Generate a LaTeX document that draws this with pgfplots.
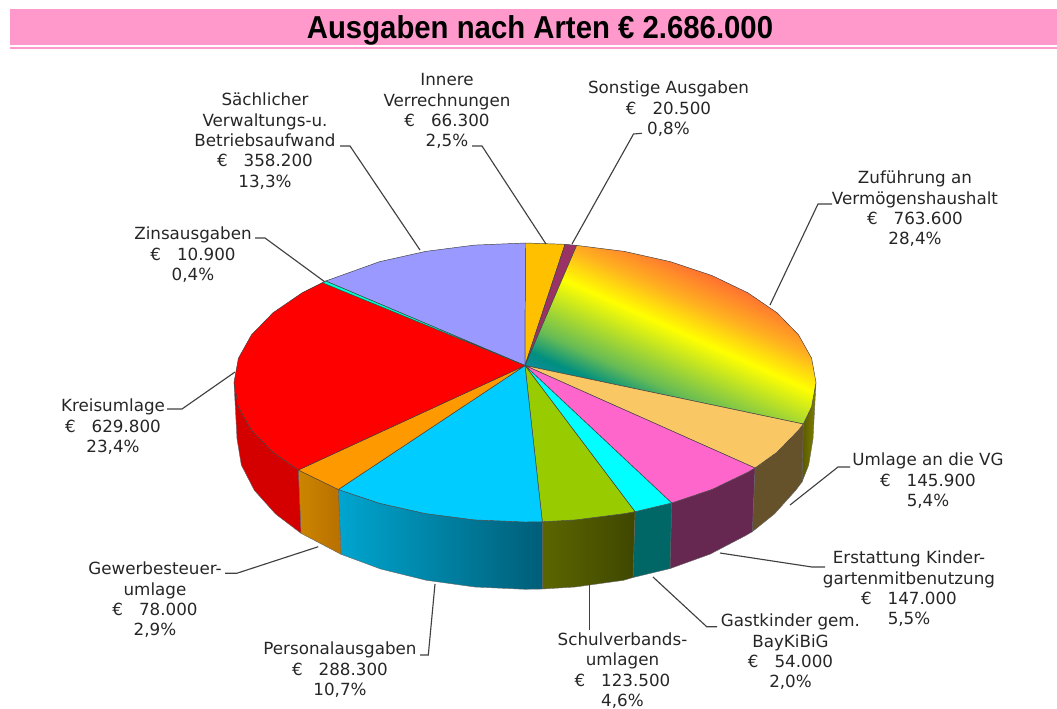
\documentclass[border=0pt]{standalone}
\usepackage{fontspec}
\usepackage{pgfplots}
\pgfplotsset{compat=1.18}
\setmainfont{DejaVu Sans}
\newfontfamily\titlefont{Liberation Sans}

\definecolor{rzA}{HTML}{2088C0}
\definecolor{rzC}{HTML}{008F80}
\definecolor{rzD}{HTML}{66BB55}
\definecolor{rzE}{HTML}{FFFF00}
\definecolor{rzF}{HTML}{FFB020}
\definecolor{rzG}{HTML}{FF6633}
% gradient on the top of the largest slice
\pgfdeclareverticalshading{zufrainbow}{100bp}{
  color(0bp)=(rzA); color(25bp)=(rzA); color(32.7bp)=(rzC);
  color(38bp)=(rzD); color(51.5bp)=(rzE); color(59bp)=(rzF); color(68bp)=(rzG);
  color(100bp)=(rzG)}

\definecolor{pinkband}{HTML}{FF99CC}
\definecolor{sach}{HTML}{9999FF}
\definecolor{inner}{HTML}{FFC000}
\definecolor{sonst}{HTML}{993366}
\definecolor{vg}{HTML}{FAC765}
\definecolor{erst}{HTML}{FF66CC}
\definecolor{gast}{HTML}{00FFFF}
\definecolor{schul}{HTML}{99CC00}
\definecolor{pers}{HTML}{00CCFF}
\definecolor{gew}{HTML}{FF9900}
\definecolor{kreis}{HTML}{FF0000}
\definecolor{zins}{HTML}{00FFCC}
\definecolor{zufwallA}{HTML}{5A5A00}
\definecolor{zufwallB}{HTML}{808000}
\definecolor{vgwall}{HTML}{66522A}
\definecolor{erstwall}{HTML}{662850}
\definecolor{gastwall}{HTML}{006666}
\definecolor{schulwallA}{HTML}{5C6600}
\definecolor{schulwallB}{HTML}{3F4700}
\definecolor{perswallA}{HTML}{00A5CF}
\definecolor{perswallB}{HTML}{005E78}
\definecolor{gewwallA}{HTML}{CC8500}
\definecolor{gewwallB}{HTML}{B87000}
\definecolor{kreiswall}{HTML}{D40000}

\tikzset{
  lbl/.style={font=\fontsize{12.55}{15.2}\selectfont, align=center, anchor=north, inner sep=0pt, text=black!85},
}
\pgfplotsset{
  slice/.style={draw=black!75, line width=0.35pt, fill=#1, mark=none},
  wall/.style 2 args={draw=black!60, line width=0.3pt, left color=#1, right color=#2, mark=none},
  lead/.style={black!75, line width=0.85pt, mark=none},
}

\begin{document}
\begin{tikzpicture}
\begin{axis}[
    scale only axis,
    width=792.75pt, height=531pt,
    xmin=0, xmax=1057,
    ymin=0, ymax=708,
    y dir=reverse,
    hide axis,
    clip=false,
]
% title band
\addplot[fill=pinkband, draw=none] coordinates {(10,9) (1057,9) (1057,44.5) (10,44.5)} --cycle;
\addplot[fill=pinkband, draw=none] coordinates {(10,46.7) (1057,46.7) (1057,49.3) (10,49.3)} --cycle;

% side walls
\addplot[wall={zufwallA}{zufwallB}] coordinates {(816,382.5) (811.6,406.8) (803.3,424) (802,482) (808.7,465) (813,438.8)} --cycle;
\addplot[wall={vgwall}{vgwall}] coordinates {(803.3,424) (798.5,430.2) (777,452.25) (755,468) (752.3,531.7) (774.4,514) (795.7,490.3) (802,482)} --cycle;
\addplot[wall={erstwall}{erstwall}] coordinates {(755,468) (747.9,472.2) (712.1,489.4) (671.7,503) (670,568.6) (710.2,554.1) (745.6,535.6) (752.3,531.7)} --cycle;
\addplot[wall={gastwall}{gastwall}] coordinates {(671.7,503) (635,511.7) (633,577.5) (670,568.6)} --cycle;
\addplot[wall={schulwallA}{schulwallB}] coordinates {(635,511.7) (624.5,513.6) (575.6,519.9) (542.3,521.8) (542.3,589) (575.1,587) (623.5,580.3) (633,577.5)} --cycle;
\addplot[wall={perswallA}{perswallB}] coordinates {(542.3,521.8) (525,522) (474.4,519.9) (425.5,513.6) (379.5,503.3) (338.3,489.5) (341,554.3) (381,569.1) (426.5,580.3) (474.9,587) (525,589.3) (542.3,589)} --cycle;
\addplot[wall={gewwallA}{gewwallB}] coordinates {(338.3,489.5) (298.3,470) (301,533.3) (341,554.3)} --cycle;
\addplot[wall={kreiswall}{kreiswall}] coordinates {(298.3,470) (273,452.25) (251.5,430.2) (238.4,406.8) (234,382.5) (237,438.8) (241.3,465) (254.3,490.3) (275.6,514.05) (301,533.3)} --cycle;

% top of the pie
\addplot[slice=sach] coordinates {(525,365.5) (325.7,281) (379.5,261.7) (425.5,251.4) (474.4,245.1) (525.5,243)} --cycle;
\addplot[slice=inner] coordinates {(525,365.5) (525.5,243) (565,244.3)} --cycle;
\addplot[slice=sonst] coordinates {(525,365.5) (565,244.3) (576.7,245.4)} --cycle;
\addplot[draw=black!75, line width=0.35pt, mark=none, shade, shading=zufrainbow, shading angle=-24.25] coordinates {(525,365.5) (576.7,245.4) (624.5,251.4) (670.5,261.7) (712.1,275.6) (747.9,292.8) (777,312.75) (798.5,334.8) (811.6,358.2) (816,382.5) (811.6,406.8) (803.3,424)} --cycle;
\addplot[slice=vg] coordinates {(525,365.5) (803.3,424) (798.5,430.2) (777,452.25) (755,468)} --cycle;
\addplot[slice=erst] coordinates {(525,365.5) (755,468) (747.9,472.2) (712.1,489.4) (671.7,503)} --cycle;
\addplot[slice=gast] coordinates {(525,365.5) (671.7,503) (635,511.7)} --cycle;
\addplot[slice=schul] coordinates {(525,365.5) (635,511.7) (624.5,513.6) (575.6,519.9) (542.3,521.8)} --cycle;
\addplot[slice=pers] coordinates {(525,365.5) (542.3,521.8) (525,522) (474.4,519.9) (425.5,513.6) (379.5,503.3) (338.3,489.5)} --cycle;
\addplot[slice=gew] coordinates {(525,365.5) (338.3,489.5) (298.3,470)} --cycle;
\addplot[slice=kreis] coordinates {(525,365.5) (298.3,470) (273,452.25) (251.5,430.2) (238.4,406.8) (234,382.5) (238.4,358.2) (251.5,334.8) (273,312.75) (302.1,292.8) (322.3,282.7)} --cycle;
\addplot[slice=zins] coordinates {(525,365.5) (322.3,282.7) (325.7,281)} --cycle;

% leader lines
\addplot[lead] coordinates {(472,146) (482,146) (546,244)};
\addplot[lead] coordinates {(642,133.3) (633.5,134) (572,244)};
\addplot[lead] coordinates {(832,204) (818,204) (770,305)};
\addplot[lead] coordinates {(850,467) (838,467) (790,505)};
\addplot[lead] coordinates {(825,567) (812,567) (720,553)};
\addplot[lead] coordinates {(717,626.7) (706.7,626.7) (653,577)};
\addplot[lead] coordinates {(589.3,584) (589.3,630)};
\addplot[lead] coordinates {(420,655) (428.3,655) (435,584)};
\addplot[lead] coordinates {(225,573.3) (236.7,573.3) (318.3,546.7)};
\addplot[lead] coordinates {(167,409) (182,409) (235,372)};
\addplot[lead] coordinates {(255,238) (265,238) (325,282)};
\addplot[lead] coordinates {(340,146) (350,146) (420,250)};

% title and labels
\node[font=\titlefont\bfseries\fontsize{22}{24}\selectfont, inner sep=0pt, yscale=1.08, transform shape] at (axis cs:540,30) {Ausgaben nach Arten € 2.686.000};

\node[lbl] at (axis cs:447,73.5) {Innere\\Verrechnungen\\€\ \ \ 66.300\\2,5\%};
\node[lbl] at (axis cs:668.5,81) {Sonstige Ausgaben\\€\ \ \ 20.500\\0,8\%};
\node[lbl] at (axis cs:915,171) {Zuführung an\\Vermögenshaushalt\\€\ \ \ 763.600\\28,4\%};
\node[lbl] at (axis cs:928,453) {Umlage an die VG\\€\ \ \ 145.900\\5,4\%};
\node[lbl] at (axis cs:909,551) {Erstattung Kinder-\\gartenmitbenutzung\\€\ \ \ 147.000\\5,5\%};
\node[lbl] at (axis cs:790.5,614) {Gastkinder gem.\\BayKiBiG\\€\ \ \ 54.000\\2,0\%};
\node[lbl] at (axis cs:622.5,632.5) {Schulverbands-\\umlagen\\€\ \ \ 123.500\\4,6\%};
\node[lbl] at (axis cs:340,642) {Personalausgaben\\€\ \ \ 288.300\\10,7\%};
\node[lbl] at (axis cs:155,562) {Gewerbesteuer-\\umlage\\€\ \ \ 78.000\\2,9\%};
\node[lbl] at (axis cs:113,399) {Kreisumlage\\€\ \ \ 629.800\\23,4\%};
\node[lbl] at (axis cs:193,227) {Zinsausgaben\\€\ \ \ 10.900\\0,4\%};
\node[lbl] at (axis cs:265,93) {Sächlicher\\Verwaltungs-u.\\Betriebsaufwand\\€\ \ \ 358.200\\13,3\%};
\end{axis}
\pgfresetboundingbox
\path[use as bounding box] (0,0) rectangle (792.75pt,531pt);
\end{tikzpicture}
\end{document}
